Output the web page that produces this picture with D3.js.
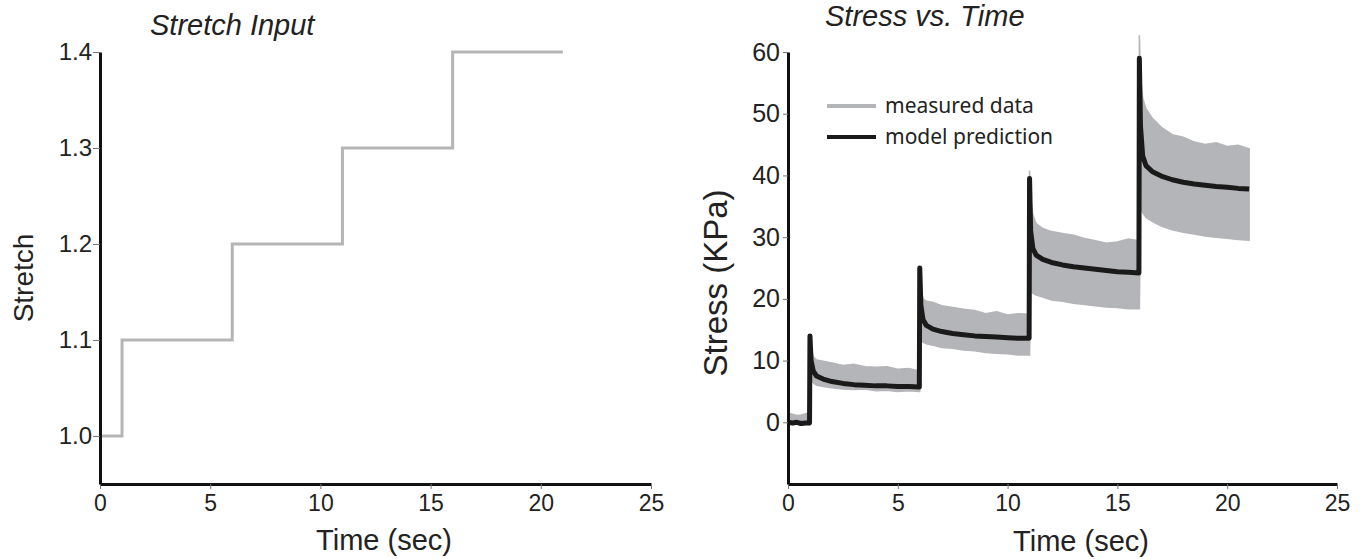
<!DOCTYPE html>
<html><head><meta http-equiv="Content-Type" content="text/html; charset=UTF-8">
<style>
body { margin: 0; background: #fff; }
svg, svg text { font-family: "Liberation Sans", Arial, sans-serif; }
.axis .domain { stroke: #111; stroke-width: 3px; }
.axis .tick line { stroke: #777; stroke-width: 1px; }
.axis .tick text { fill: #222; font-family: "Liberation Sans", Arial, sans-serif; }
.title { font-style: italic; fill: #222; }
.label { fill: #222; }
</style>
</head>
<body>
<svg width="1371" height="559"></svg>
<script src="https://cdn.jsdelivr.net/npm/d3@7"></script>
<script>

// stretch input (step after each time)
var stretchTime = [0, 1, 6, 11, 16, 21];
var stretchVal  = [1.0, 1.1, 1.2, 1.3, 1.4, 1.4];

// stress vs time
var tSec = [0, 0.2, 0.4, 0.6, 0.8, 0.98,
  1.0, 1.05, 1.15, 1.3, 1.6, 2.0, 2.5, 3.0, 3.5, 4.0, 4.5, 5.0, 5.5, 5.98,
  6.0, 6.05, 6.15, 6.3, 6.6, 7.0, 7.5, 8.0, 8.5, 9.0, 9.5, 10.0, 10.5, 10.98,
  11.0, 11.05, 11.15, 11.3, 11.6, 12.0, 12.5, 13.0, 13.5, 14.0, 14.5, 15.0, 15.5, 15.98,
  16.0, 16.05, 16.15, 16.3, 16.6, 17.0, 17.5, 18.0, 18.5, 19.0, 19.5, 20.0, 20.5, 21.0];
var measuredHi = [1.5, 1.3, 1.1, 1.2, 1.4, 1.5,
  14.0, 12.2, 10.6, 10.1, 9.9, 9.6, 9.2, 9.4, 9.0, 8.9, 9.0, 8.6, 8.7, 8.3,
  25.2, 21.5, 20.0, 19.6, 19.4, 18.9, 18.6, 18.3, 18.1, 17.6, 17.9, 17.4, 17.6, 17.5,
  40.8, 36.0, 33.6, 32.2, 31.4, 30.9, 30.6, 30.3, 29.8, 29.4, 29.0, 29.2, 29.7, 29.4,
  62.7, 56.0, 52.5, 50.8, 49.2, 47.8, 46.6, 46.2, 45.4, 45.0, 45.3, 44.7, 44.9, 44.3];
var measuredLo = [0.0, -0.4, -0.3, -0.5, -0.3, -0.4,
  -0.4, 7.0, 6.4, 6.0, 5.8, 5.6, 5.4, 5.3, 5.4, 5.1, 5.2, 5.0, 5.1, 5.0,
  5.0, 13.5, 13.0, 12.7, 12.5, 12.1, 12.0, 11.7, 11.6, 11.3, 11.2, 11.1, 10.9, 10.9,
  10.9, 21.4, 20.9, 20.6, 20.3, 19.8, 19.6, 19.3, 19.1, 18.9, 18.7, 18.6, 18.4, 18.4,
  18.4, 35.0, 34.0, 33.2, 32.5, 31.8, 31.2, 30.8, 30.5, 30.2, 30.0, 29.8, 29.6, 29.5];
var model = [0, -0.1, 0, -0.2, -0.1, -0.1,
  14.0, 10.0, 8.3, 7.5, 7.0, 6.6, 6.3, 6.1, 6.0, 5.9, 5.9, 5.8, 5.8, 5.7,
  25.0, 19.0, 16.6, 15.7, 15.1, 14.7, 14.4, 14.2, 14.0, 13.9, 13.8, 13.7, 13.6, 13.6,
  39.5, 31.0, 28.2, 27.1, 26.4, 25.9, 25.5, 25.2, 25.0, 24.8, 24.6, 24.4, 24.3, 24.2,
  59.0, 48.0, 43.2, 41.6, 40.6, 39.9, 39.3, 38.9, 38.6, 38.4, 38.2, 38.1, 37.9, 37.8];

var xTicks = [0, 5, 10, 15, 20, 25];
var stretchTicks = [1.0, 1.1, 1.2, 1.3, 1.4];
var stressTicks = [0, 10, 20, 30, 40, 50, 60];
var legendNames = ["measured data", "model prediction"];

var svg = d3.select("svg");

// ---- left: stretch input ----
var x1 = d3.scaleLinear().domain([0, 25]).range([100, 651]),
    y1 = d3.scaleLinear().domain([0.95, 1.4]).range([484, 52]);

var stretch = stretchTime.map(function(t, i) { return {t: t, v: stretchVal[i]}; });

svg.append("path")
    .datum(stretch)
    .attr("fill", "none")
    .attr("stroke", "#b5b5b5")
    .attr("stroke-width", 3)
    .attr("d", d3.line().curve(d3.curveStepAfter)
      .x(function(d) { return x1(d.t); })
      .y(function(d) { return y1(d.v); }));

svg.append("g")
    .attr("class", "axis")
    .attr("transform", "translate(0," + y1(0.95) + ")")
    .call(d3.axisBottom(x1).tickValues(xTicks).tickSize(5).tickSizeOuter(0).tickPadding(6))
    .call(function(g) { g.attr("font-family", null).selectAll(".tick text").style("font-size", "23px"); });

svg.append("g")
    .attr("class", "axis")
    .attr("transform", "translate(" + x1(0) + ",0)")
    .call(d3.axisLeft(y1).tickValues(stretchTicks).tickFormat(d3.format(".1f")).tickSize(7).tickSizeOuter(0).tickPadding(1))
    .call(function(g) { g.attr("font-family", null).selectAll(".tick text").style("font-size", "24px"); });

svg.append("text").attr("class", "title")
    .attr("x", 150).attr("y", 35)
    .style("font-size", "29px")
    .text("Stretch Input");

svg.append("text").attr("class", "label")
    .attr("transform", "translate(33,278) rotate(-90)")
    .attr("text-anchor", "middle")
    .style("font-size", "28px")
    .text("Stretch");

svg.append("text").attr("class", "label")
    .attr("x", 384).attr("y", 550)
    .attr("text-anchor", "middle")
    .style("font-size", "29px")
    .text("Time (sec)");

// ---- right: stress vs time ----
var x2 = d3.scaleLinear().domain([0, 25]).range([788, 1337]),
    y2 = d3.scaleLinear().domain([-10, 60]).range([484, 52]);

var stress = tSec.map(function(t, i) {
  return {t: t, hi: measuredHi[i], lo: measuredLo[i], m: model[i]};
});

svg.append("path")
    .datum(stress)
    .attr("fill", "#b4b5b8")
    .attr("stroke", "#b4b5b8")
    .attr("stroke-width", 1.5)
    .attr("d", d3.area()
      .x(function(d) { return x2(d.t); })
      .y0(function(d) { return y2(d.lo); })
      .y1(function(d) { return y2(d.hi); }));

svg.append("path")
    .datum(stress)
    .attr("fill", "none")
    .attr("stroke", "#1b1a1a")
    .attr("stroke-width", 5)
    .attr("stroke-linejoin", "round")
    .attr("d", d3.line()
      .x(function(d) { return x2(d.t); })
      .y(function(d) { return y2(d.m); }));

svg.append("g")
    .attr("class", "axis")
    .attr("transform", "translate(0," + y2(-10) + ")")
    .call(d3.axisBottom(x2).tickValues(xTicks).tickSize(5).tickSizeOuter(0).tickPadding(6))
    .call(function(g) { g.attr("font-family", null).selectAll(".tick text").style("font-size", "23px"); });

svg.append("g")
    .attr("class", "axis")
    .attr("transform", "translate(" + x2(0) + ",0)")
    .call(d3.axisLeft(y2).tickValues(stressTicks).tickSize(5).tickSizeOuter(0).tickPadding(3))
    .call(function(g) { g.attr("font-family", null).selectAll(".tick text").style("font-size", "25px"); });

svg.append("text").attr("class", "title")
    .attr("x", 825).attr("y", 26)
    .style("font-size", "29px")
    .text("Stress vs. Time");

svg.append("text").attr("class", "label")
    .attr("transform", "translate(727,283) rotate(-90)")
    .attr("text-anchor", "middle")
    .style("font-size", "33px")
    .text("Stress (KPa)");

svg.append("text").attr("class", "label")
    .attr("x", 1081).attr("y", 551)
    .attr("text-anchor", "middle")
    .style("font-size", "29px")
    .text("Time (sec)");

// legend
var legendColor = ["#b4b5b8", "#1b1a1a"];
var legend = svg.selectAll(".legend")
    .data(legendNames)
    .enter().append("g")
      .attr("class", "legend")
      .attr("transform", function(d, i) { return "translate(827," + (106 + i * 31) + ")"; });

legend.append("line")
    .attr("x1", 0).attr("x2", 49)
    .attr("stroke", function(d, i) { return legendColor[i]; })
    .attr("stroke-width", 4);

legend.append("text")
    .attr("x", 58).attr("dy", "0.33em")
    .style("font-size", "21px")
    .style("font-family", "'Noto Sans', sans-serif")
    .attr("fill", "#222")
    .text(function(d) { return d; });

</script>
</body></html>
